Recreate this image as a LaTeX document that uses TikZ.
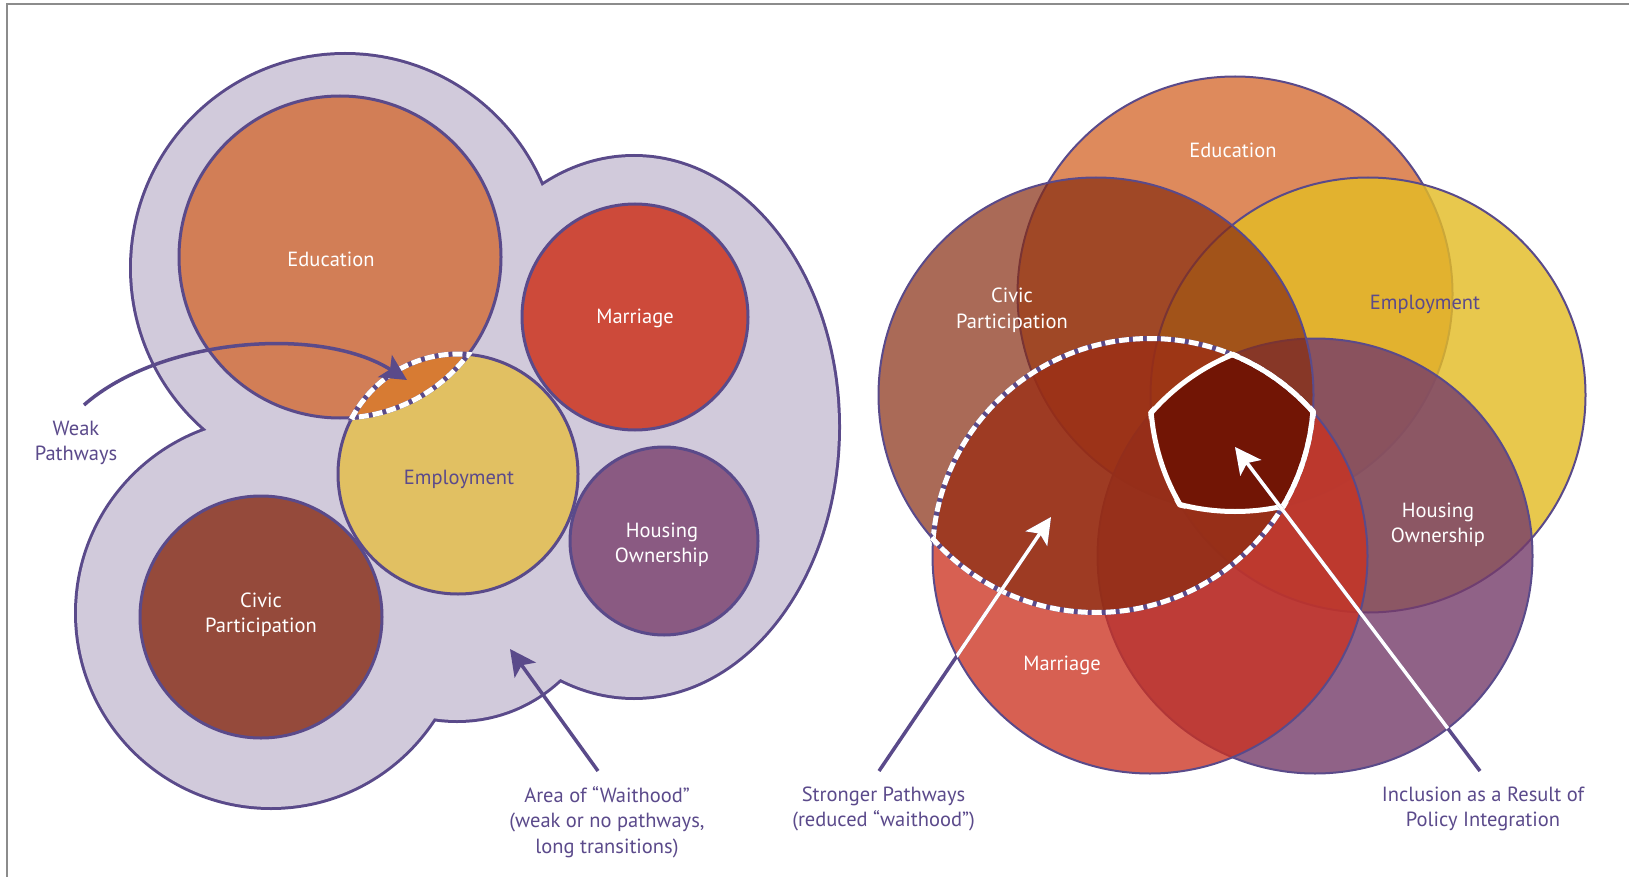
\documentclass[tikz,border=0pt]{standalone}
\usepackage{fontspec}
\setmainfont{PT Sans}
\usetikzlibrary{arrows.meta}
\definecolor{pur}{HTML}{5A4A8A}
\definecolor{txtpur}{HTML}{5B4A8B}
\definecolor{blobc}{HTML}{D1CADB}
\definecolor{lEduC}{HTML}{D27E56}
\definecolor{lMarC}{HTML}{CD4A3A}
\definecolor{lEmpC}{HTML}{E1C062}
\definecolor{lHouC}{HTML}{8A5A82}
\definecolor{lCivC}{HTML}{954A3B}
\definecolor{lLensC}{HTML}{D77B33}
\definecolor{rEduC}{HTML}{DE8A5C}
\definecolor{rEmpC}{HTML}{E4BC26}
\definecolor{rHouC}{HTML}{753B6A}
\definecolor{rMarC}{HTML}{CC311F}
\definecolor{rCivC}{HTML}{872C10}
\definecolor{rCoreC}{HTML}{721505}
\definecolor{frameC}{HTML}{8C8C8C}
\def\R{217.5}
\def\Rp{220.5}
\begin{document}
\begin{tikzpicture}[x=1pt,y=-1pt,
  lbl/.style={font=\fontsize{20.5}{25.5}\selectfont, align=center, inner sep=0pt},
  wlbl/.style={lbl, text=white},
  plbl/.style={lbl, text=txtpur},
  lcirc/.style={draw=pur, line width=3},
  rcirc/.style={draw=pur, line width=2},
  arr/.style={line width=3.5, -{Stealth[length=26pt, width=26pt, inset=6pt]}},
  dashw/.style={white, line width=5, dash pattern=on 10pt off 4pt},
  dashbase/.style={pur, line width=5},
  coreline/.style={white, line width=5},
]
\useasboundingbox (0,0) rectangle (1629,877);
\fill[white] (0,0) rectangle (1629,877);
% frame
\draw[frameC, line width=2] (7,877) -- (7,4) -- (1629,4);

% ---------- coordinates ----------
\coordinate (b1) at (345,268);
\coordinate (b2) at (634,427);
\coordinate (b3) at (457,570);
\coordinate (b4) at (271,613);
\coordinate (lEdu) at (340,257);
\coordinate (lEmp) at (458,474);
\coordinate (lMar) at (635,317);
\coordinate (lHou) at (664,541);
\coordinate (lCiv) at (261,617);

\coordinate (rEdu) at (1235,294);
\coordinate (rCiv) at (1096,395);
\coordinate (rEmp) at (1368,395);
\coordinate (rMar) at (1150,556);
\coordinate (rHou) at (1315,556);

% ---------- left diagram ----------
\draw[pur, line width=6] (b1) circle (213) (b2) ellipse [x radius=204, y radius=270] (b3) circle (150) (b4) circle (194);
\fill[blobc] (b1) circle (213) (b2) ellipse [x radius=204, y radius=270] (b3) circle (150) (b4) circle (194);

\path[lcirc, fill=lEduC] (lEdu) circle (161);
\path[lcirc, fill=lEmpC] (lEmp) circle (120);
\path[lcirc, fill=lMarC] (lMar) circle (113);
\path[lcirc, fill=lHouC] (lHou) circle (94);
\path[lcirc, fill=lCivC] (lCiv) circle (121);

\begin{scope}
  \clip (lEdu) circle (161);
  \fill[lLensC] (lEmp) circle (120);
\end{scope}
\begin{scope}
  \clip (lEmp) circle (122.5);
  \draw[dashbase] (lEdu) circle (161);
  \draw[dashw] (lEdu) circle (161);
\end{scope}
\begin{scope}
  \clip (lEdu) circle (163.5);
  \draw[dashbase] (lEmp) circle (120);
  \draw[dashw] (lEmp) circle (120);
\end{scope}

\node[wlbl] (tlEdu) at (331,259) {Education};
\node[wlbl] (tlMar) at (635,318) {Marriage};
\node[plbl] (tlEmp) at (459,479) {Employment};
\node[wlbl] (tlHou) at (662,545) {Housing\\Ownership};
\node[wlbl] (tlCiv) at (261,614.5) {Civic\\Participation};

\coordinate (wp-s) at (84,405);
\coordinate (wp-t) at (407,380);
\draw[arr, pur] (wp-s) .. controls (160,338) and (320,325) .. (wp-t);
\node[plbl] (tWeak) at (76,443) {Weak\\Pathways};

\coordinate (wt-s) at (598,771);
\coordinate (wt-t) at (510,649);
\draw[arr, pur] (wt-s) -- (wt-t);
\node[plbl] (tWait) at (607,822) {Area of “Waithood”\\(weak or no pathways,\\long transitions)};

% ---------- right diagram ----------
\path[rcirc, fill=rEduC] (rEdu) circle (\R);
\path[rcirc, fill=rEmpC, fill opacity=0.82] (rEmp) circle (\R);
\path[rcirc, fill=rHouC, fill opacity=0.8] (rHou) circle (\R);
\path[rcirc, fill=rMarC, fill opacity=0.77] (rMar) circle (\R);
\path[rcirc, fill=rCivC, fill opacity=0.7] (rCiv) circle (\R);

% core
\begin{scope}
  \clip (rEdu) circle (\R);
  \clip (rCiv) circle (\R);
  \clip (rEmp) circle (\R);
  \clip (rMar) circle (\R);
  \fill[rCoreC] (rHou) circle (\R);
\end{scope}

% labels
\node[wlbl] (trEdu) at (1233,150) {Education};
\node[wlbl] (trCiv) at (1012,310.5) {Civic\\Participation};
\node[plbl] (trEmp) at (1425,304) {Employment};
\node[wlbl] (trHou) at (1438,525) {Housing\\Ownership};
\node[wlbl] (trMar) at (1062,665) {Marriage};

% dashed lens Civic & Marriage
\begin{scope}
  \clip (rCiv) circle (\Rp);
  \draw[dashbase] (rMar) circle (\R);
  \draw[dashw] (rMar) circle (\R);
\end{scope}
\begin{scope}
  \clip (rMar) circle (\Rp);
  \draw[dashbase] (rCiv) circle (\R);
  \draw[dashw] (rCiv) circle (\R);
\end{scope}

% core outline
\begin{scope}
  \clip (rCiv) circle (\Rp); \clip (rEmp) circle (\Rp); \clip (rMar) circle (\Rp); \clip (rHou) circle (\Rp);
  \draw[coreline] (rEdu) circle (\R);
\end{scope}
\begin{scope}
  \clip (rEdu) circle (\Rp); \clip (rEmp) circle (\Rp); \clip (rMar) circle (\Rp); \clip (rHou) circle (\Rp);
  \draw[coreline] (rCiv) circle (\R);
\end{scope}
\begin{scope}
  \clip (rEdu) circle (\Rp); \clip (rCiv) circle (\Rp); \clip (rMar) circle (\Rp); \clip (rHou) circle (\Rp);
  \draw[coreline] (rEmp) circle (\R);
\end{scope}
\begin{scope}
  \clip (rEdu) circle (\Rp); \clip (rCiv) circle (\Rp); \clip (rEmp) circle (\Rp); \clip (rHou) circle (\Rp);
  \draw[coreline] (rMar) circle (\R);
\end{scope}
\begin{scope}
  \clip (rEdu) circle (\Rp); \clip (rCiv) circle (\Rp); \clip (rEmp) circle (\Rp); \clip (rMar) circle (\Rp);
  \draw[coreline] (rHou) circle (\R);
\end{scope}

% arrows
\coordinate (sp-s) at (879,771);
\coordinate (sp-t) at (1051,517);
\coordinate (inc-s) at (1480,771);
\coordinate (inc-t) at (1235,447);
\draw[arr, pur] (sp-s) -- (sp-t);
\draw[arr, pur] (inc-s) -- (inc-t);
\begin{scope}
  \clip (rEdu) circle (\R) (rCiv) circle (\R) (rEmp) circle (\R) (rMar) circle (\R) (rHou) circle (\R);
  \draw[arr, white] (sp-s) -- (sp-t);
  \draw[arr, white] (inc-s) -- (inc-t);
\end{scope}

\node[plbl] (tStr) at (883.5,809) {Stronger Pathways\\(reduced “waithood”)};
\node[plbl] (tInc) at (1483,809) {Inclusion as a Result of\\Policy Integration};
\end{tikzpicture}
\end{document}
